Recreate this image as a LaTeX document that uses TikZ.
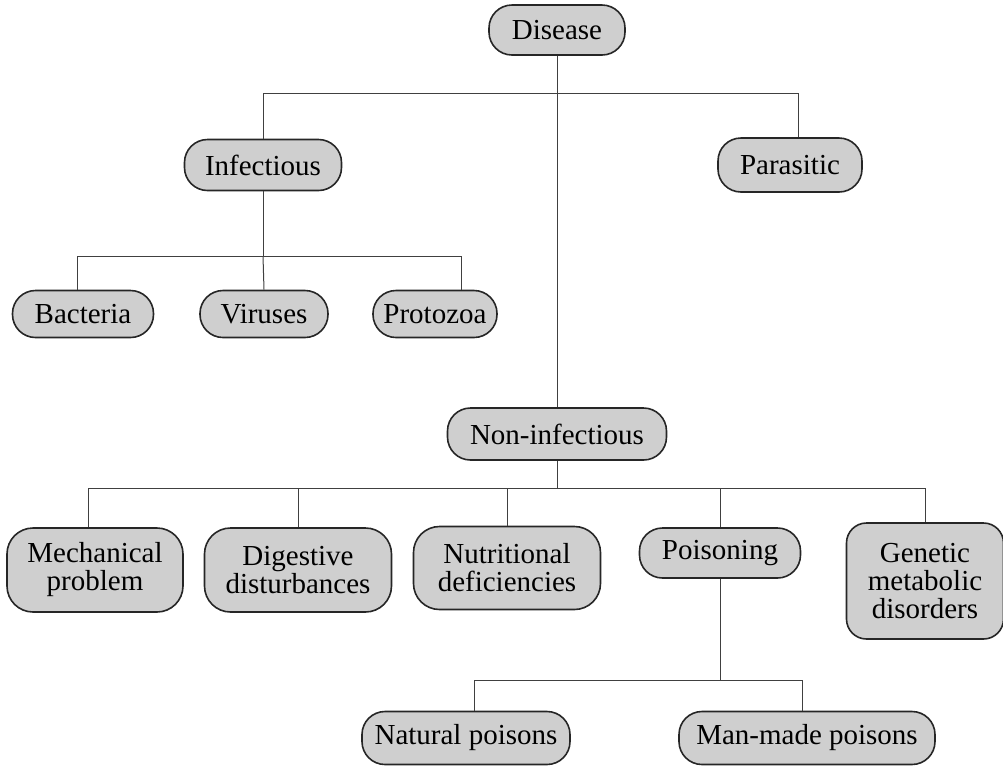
\documentclass[tikz,border=0pt]{standalone}
\usepackage{fontspec}
\setmainfont{Liberation Serif}

\begin{document}
\begin{tikzpicture}[
    x=0.5pt, y=-0.5pt,
    font=\fontsize{14.5}{14}\selectfont,
    pill/.style={draw=black!85, line width=0.8pt, fill=gray!38, rounded corners=11.5pt, inner sep=0pt},
    blob/.style={pill, rounded corners=13pt, align=center},
    wh/.style 2 args={minimum width=#1*0.5pt, minimum height=#2*0.5pt},
    link/.style={draw=black!75, line width=0.5pt},
]
\useasboundingbox (0,0) rectangle (1003,768);

% top level
\node[pill, wh={136}{50}] (dis) at (557,30) {Disease};
\node[pill, wh={157}{51}] (inf) at (263,165) {Infectious};
\node[pill, wh={144}{54}] (par) at (790,165) {Parasitic};
\node[pill, wh={219}{52}] (non) at (557,434) {Non-infectious};

% infectious
\node[pill, wh={141}{47}] (bac) at (83,314) {Bacteria};
\node[pill, wh={128}{47}] (vir) at (264,314) {Viruses};
\node[pill, wh={124}{47}] (pro) at (435,314) {Protozoa};

% non-infectious
\node[blob, wh={176}{84}] (mec) at (95,570) {Mechanical\\problem};
\node[blob, wh={187}{84}] (dig) at (298,570) {Digestive\\disturbances};
\node[blob, wh={187}{83}] (nut) at (507,568) {Nutritional\\deficiencies};
\node[pill, wh={161}{50}] (poi) at (720,553) {Poisoning};
\node[blob, rounded corners=10pt, wh={157}{116}] (gen) at (925,581) {Genetic\\metabolic\\disorders};

% poisoning
\node[pill, wh={208}{53}] (nat) at (466,738) {Natural poisons};
\node[pill, wh={256}{53}] (man) at (807,738) {Man-made poisons};

% connectors
\coordinate (topbus) at (557,93);
\coordinate (infbus) at (263,256);
\coordinate (nonbus) at (557,488);
\coordinate (poibus) at (720,680);

\draw[link] (dis.south) -- (non.north);
\draw[link] (inf.north) |- (topbus) -| ([xshift=4pt]par.north);

\draw[link] (inf.south) -- (infbus);
\draw[link] ([xshift=-3pt]bac.north) |- (infbus) -| ([xshift=13pt]pro.north);
\draw[link] (infbus) -- (vir.north);

\draw[link] (non.south) -- (nonbus);
\draw[link] ([xshift=-3.5pt]mec.north) |- (nonbus) -| (gen.north);
\foreach \n in {dig,nut,poi}
    \draw[link] (\n.north) -- (\n.north |- nonbus);

\draw[link] (poi.south) -- (poibus);
\draw[link] ([xshift=4pt]nat.north) |- (poibus) -| ([xshift=-2.5pt]man.north);
\end{tikzpicture}
\end{document}
